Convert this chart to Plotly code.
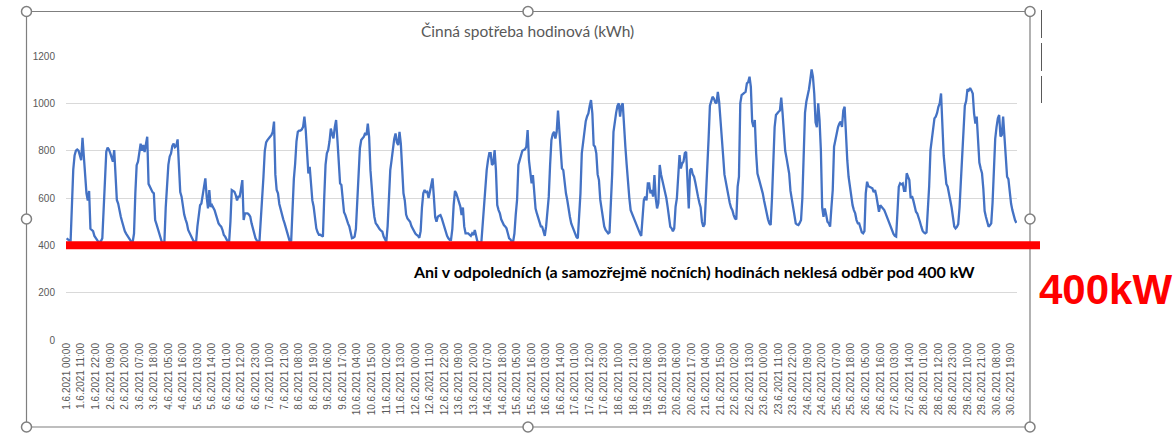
import plotly.graph_objects as go

# Hourly active consumption (kWh), June 2021, one list per day (hours 00..23)
jun01 = [430, 425, 420, 420, 600, 720, 780, 800, 805, 800, 780, 760, 855, 760, 700, 620, 590, 630, 470, 465, 460, 440, 430, 420]
jun02 = [415, 415, 418, 430, 577, 700, 796, 813, 805, 790, 775, 754, 803, 718, 592, 577, 540, 521, 500, 472, 460, 450, 440, 430]
jun03 = [420, 415, 415, 450, 620, 739, 754, 790, 830, 800, 824, 795, 830, 859, 660, 648, 634, 625, 620, 507, 490, 472, 455, 437]
jun04 = [415, 412, 415, 560, 650, 740, 775, 789, 820, 830, 815, 820, 848, 700, 625, 606, 563, 530, 510, 493, 465, 455, 444, 430]
jun05 = [418, 415, 415, 480, 535, 570, 577, 610, 650, 683, 606, 556, 634, 563, 570, 560, 549, 530, 505, 493, 485, 479, 465, 444]
jun06 = [437, 425, 415, 415, 500, 634, 630, 627, 613, 590, 606, 606, 640, 676, 507, 535, 535, 535, 530, 521, 493, 470, 451, 430]
jun07 = [420, 415, 420, 500, 600, 690, 800, 835, 845, 855, 859, 866, 880, 923, 700, 634, 620, 575, 550, 535, 510, 493, 472, 450]
jun08 = [425, 415, 420, 560, 680, 746, 840, 880, 885, 885, 890, 901, 944, 887, 780, 704, 732, 650, 590, 563, 514, 472, 455, 445]
jun09 = [445, 440, 437, 600, 740, 789, 803, 840, 894, 870, 852, 900, 930, 845, 760, 662, 655, 577, 540, 528, 505, 493, 480, 455]
jun10 = [430, 432, 437, 470, 592, 720, 810, 845, 852, 859, 875, 866, 915, 859, 718, 630, 570, 520, 493, 486, 475, 468, 462, 458]
jun11 = [437, 425, 415, 480, 620, 718, 760, 820, 850, 873, 835, 824, 880, 830, 700, 620, 590, 530, 514, 507, 500, 482, 470, 458]
jun12 = [450, 444, 440, 432, 460, 560, 620, 634, 625, 627, 600, 627, 660, 683, 606, 520, 500, 521, 525, 528, 514, 495, 470, 455]
jun13 = [440, 430, 423, 423, 470, 570, 630, 620, 600, 585, 565, 528, 560, 480, 451, 451, 451, 445, 440, 451, 444, 465, 430, 415]
jun14 = [415, 412, 415, 500, 577, 680, 718, 760, 790, 790, 740, 746, 803, 718, 570, 549, 535, 510, 495, 486, 480, 472, 451, 430]
jun15 = [425, 415, 415, 450, 530, 592, 740, 760, 790, 800, 803, 806, 817, 887, 760, 704, 662, 697, 620, 556, 535, 515, 500, 480]
jun16 = [479, 460, 440, 480, 560, 606, 740, 845, 870, 880, 852, 880, 970, 880, 803, 725, 718, 660, 620, 592, 549, 521, 493, 479]
jun17 = [465, 451, 435, 430, 520, 620, 789, 840, 900, 925, 945, 958, 990, 1014, 958, 824, 817, 789, 700, 676, 592, 549, 521, 480]
jun18 = [465, 458, 451, 455, 560, 700, 880, 930, 960, 990, 1000, 944, 990, 1000, 887, 817, 740, 660, 600, 549, 535, 514, 500, 490]
jun19 = [479, 465, 451, 440, 500, 592, 606, 590, 662, 662, 620, 634, 606, 697, 600, 556, 580, 740, 700, 676, 648, 630, 600, 563]
jun20 = [521, 479, 472, 460, 472, 563, 600, 690, 782, 725, 746, 754, 790, 796, 648, 556, 718, 725, 700, 690, 665, 627, 606, 580]
jun21 = [560, 500, 479, 490, 600, 690, 850, 990, 1014, 1028, 1021, 1005, 1000, 1049, 1007, 915, 850, 780, 700, 669, 634, 613, 580, 560]
jun22 = [549, 528, 514, 510, 648, 690, 1000, 1035, 1042, 1045, 1049, 1085, 1090, 1113, 1070, 923, 900, 930, 789, 704, 683, 662, 648, 620]
jun23 = [590, 560, 530, 510, 493, 486, 600, 780, 900, 951, 960, 965, 970, 1025, 960, 859, 800, 770, 730, 704, 630, 600, 570, 540]
jun24 = [493, 488, 486, 495, 507, 600, 780, 960, 1007, 1028, 1060, 1100, 1144, 1113, 1042, 920, 900, 1000, 930, 803, 560, 521, 556, 530]
jun25 = [500, 493, 479, 560, 634, 817, 850, 873, 900, 915, 923, 901, 970, 986, 859, 760, 690, 648, 600, 570, 549, 535, 507, 493]
jun26 = [493, 470, 455, 451, 460, 620, 669, 650, 648, 645, 641, 625, 634, 610, 563, 542, 570, 563, 556, 549, 535, 521, 507, 485]
jun27 = [479, 460, 448, 440, 437, 540, 648, 662, 658, 662, 630, 630, 705, 690, 676, 600, 608, 590, 563, 542, 535, 521, 500, 480]
jun28 = [462, 455, 451, 455, 540, 650, 803, 852, 910, 937, 944, 960, 986, 1000, 1042, 900, 780, 720, 660, 648, 620, 600, 560, 520]
jun29 = [480, 472, 478, 490, 560, 670, 780, 900, 990, 1010, 1060, 1055, 1065, 1055, 1042, 958, 915, 944, 860, 750, 725, 705, 640, 545]
jun30 = [520, 493, 479, 485, 493, 580, 760, 850, 900, 937, 951, 860, 866, 944, 860, 750, 690, 680, 620, 577, 549, 521, 507, 495]

days = [jun01, jun02, jun03, jun04, jun05, jun06, jun07, jun08, jun09, jun10,
        jun11, jun12, jun13, jun14, jun15, jun16, jun17, jun18, jun19, jun20,
        jun21, jun22, jun23, jun24, jun25, jun26, jun27, jun28, jun29, jun30]

consumption = [v for d in days for v in d]
hours = list(range(len(consumption)))

# category labels for every hour; axis shows every 11th
hour_labels = [f"{h // 24 + 1}.6.2021 {h % 24:02d}:00" for h in hours]
tick_positions = hours[::11]
tick_labels = hour_labels[::11]

y_ticks = [0, 200, 400, 600, 800, 1000, 1200]
threshold_kw = 400

title_text = "Činná spotřeba hodinová (kWh)"
note_text = "Ani v odpoledních (a samozřejmě nočních) hodinách neklesá odběr pod 400 kW"
big_label = "400kW"

# ---- geometry helpers (pixel -> paper) ----
W, H = 1176, 434
L, R, T, B = 66, 1017, 56, 340


def px(x):
    return (x - L) / (R - L)


def py(y):
    return (B - y) / (B - T)


fig = go.Figure()
fig.add_trace(go.Scatter(
    x=hours, y=consumption, mode="lines",
    line=dict(color="#4472C4", width=2.3),
    hoverinfo="skip", showlegend=False,
))

shapes = []
# chart frame
shapes.append(dict(type="rect", xref="paper", yref="paper",
                   x0=px(26.5), x1=px(1030), y0=py(427), y1=py(11.5),
                   line=dict(color="#7F7F7F", width=1.2), fillcolor="rgba(0,0,0,0)", layer="below"))
# red threshold line
shapes.append(dict(type="line", xref="paper", yref="y",
                   x0=px(66), x1=px(1040), y0=threshold_kw, y1=threshold_kw,
                   line=dict(color="#FF0000", width=8)))
# dashed vertical line at top right
shapes.append(dict(type="line", xref="paper", yref="paper",
                   x0=px(1041.5), x1=px(1041.5), y0=py(10), y1=py(103),
                   line=dict(color="#595959", width=1, dash="28px,5px")))
# selection handles
for hx, hy in [(26.5, 11.5), (528, 11.5), (1030, 11.5), (26.5, 219), (1030, 219),
               (26.5, 427), (528, 427), (1030, 427)]:
    shapes.append(dict(type="circle", xref="paper", yref="paper",
                       xsizemode="pixel", ysizemode="pixel",
                       xanchor=px(hx), yanchor=py(hy), x0=-5, x1=5, y0=-5, y1=5,
                       line=dict(color="#7F7F7F", width=1.5), fillcolor="white"))

annotations = [
    dict(text=title_text, xref="paper", yref="paper", x=px(527), y=py(31),
         showarrow=False, font=dict(family="Lato, Liberation Sans, Arial", size=15.5, color="#595959"),
         xanchor="center", yanchor="middle"),
    dict(text=f"<b>{note_text}</b>", xref="paper", yref="paper", x=px(694), y=py(271),
         showarrow=False, font=dict(family="Lato, Liberation Sans, Arial", size=16, color="#000000"),
         xanchor="center", yanchor="middle"),
    dict(text=f"<b>{big_label}</b>", xref="paper", yref="paper", x=px(1105), y=py(289),
         showarrow=False, font=dict(family="Liberation Sans, Arial", size=42, color="#FF0000"),
         xanchor="center", yanchor="middle"),
]

fig.update_layout(
    width=W, height=H,
    margin=dict(l=L, r=W - R, t=T, b=H - B),
    paper_bgcolor="white", plot_bgcolor="white",
    shapes=shapes, annotations=annotations,
    font=dict(family="Liberation Sans, Arial", color="#595959"),
    xaxis=dict(range=[-0.5, len(hours) - 0.5], tickmode="array",
               tickvals=tick_positions, ticktext=tick_labels, tickangle=-90,
               tickfont=dict(size=10, color="#595959"), showgrid=False,
               zeroline=False, showline=False, ticks=""),
    yaxis=dict(range=[0, 1200.5], tickmode="array", tickvals=y_ticks,
               tickfont=dict(size=10, color="#595959"), showgrid=True,
               gridcolor="#D9D9D9", gridwidth=1, zeroline=False, showline=False,
               ticks="", ticklabelstandoff=10),
)

fig.write_html("out.html", config={"displayModeBar": False},
               post_script="document.body.style.margin='0px';")
